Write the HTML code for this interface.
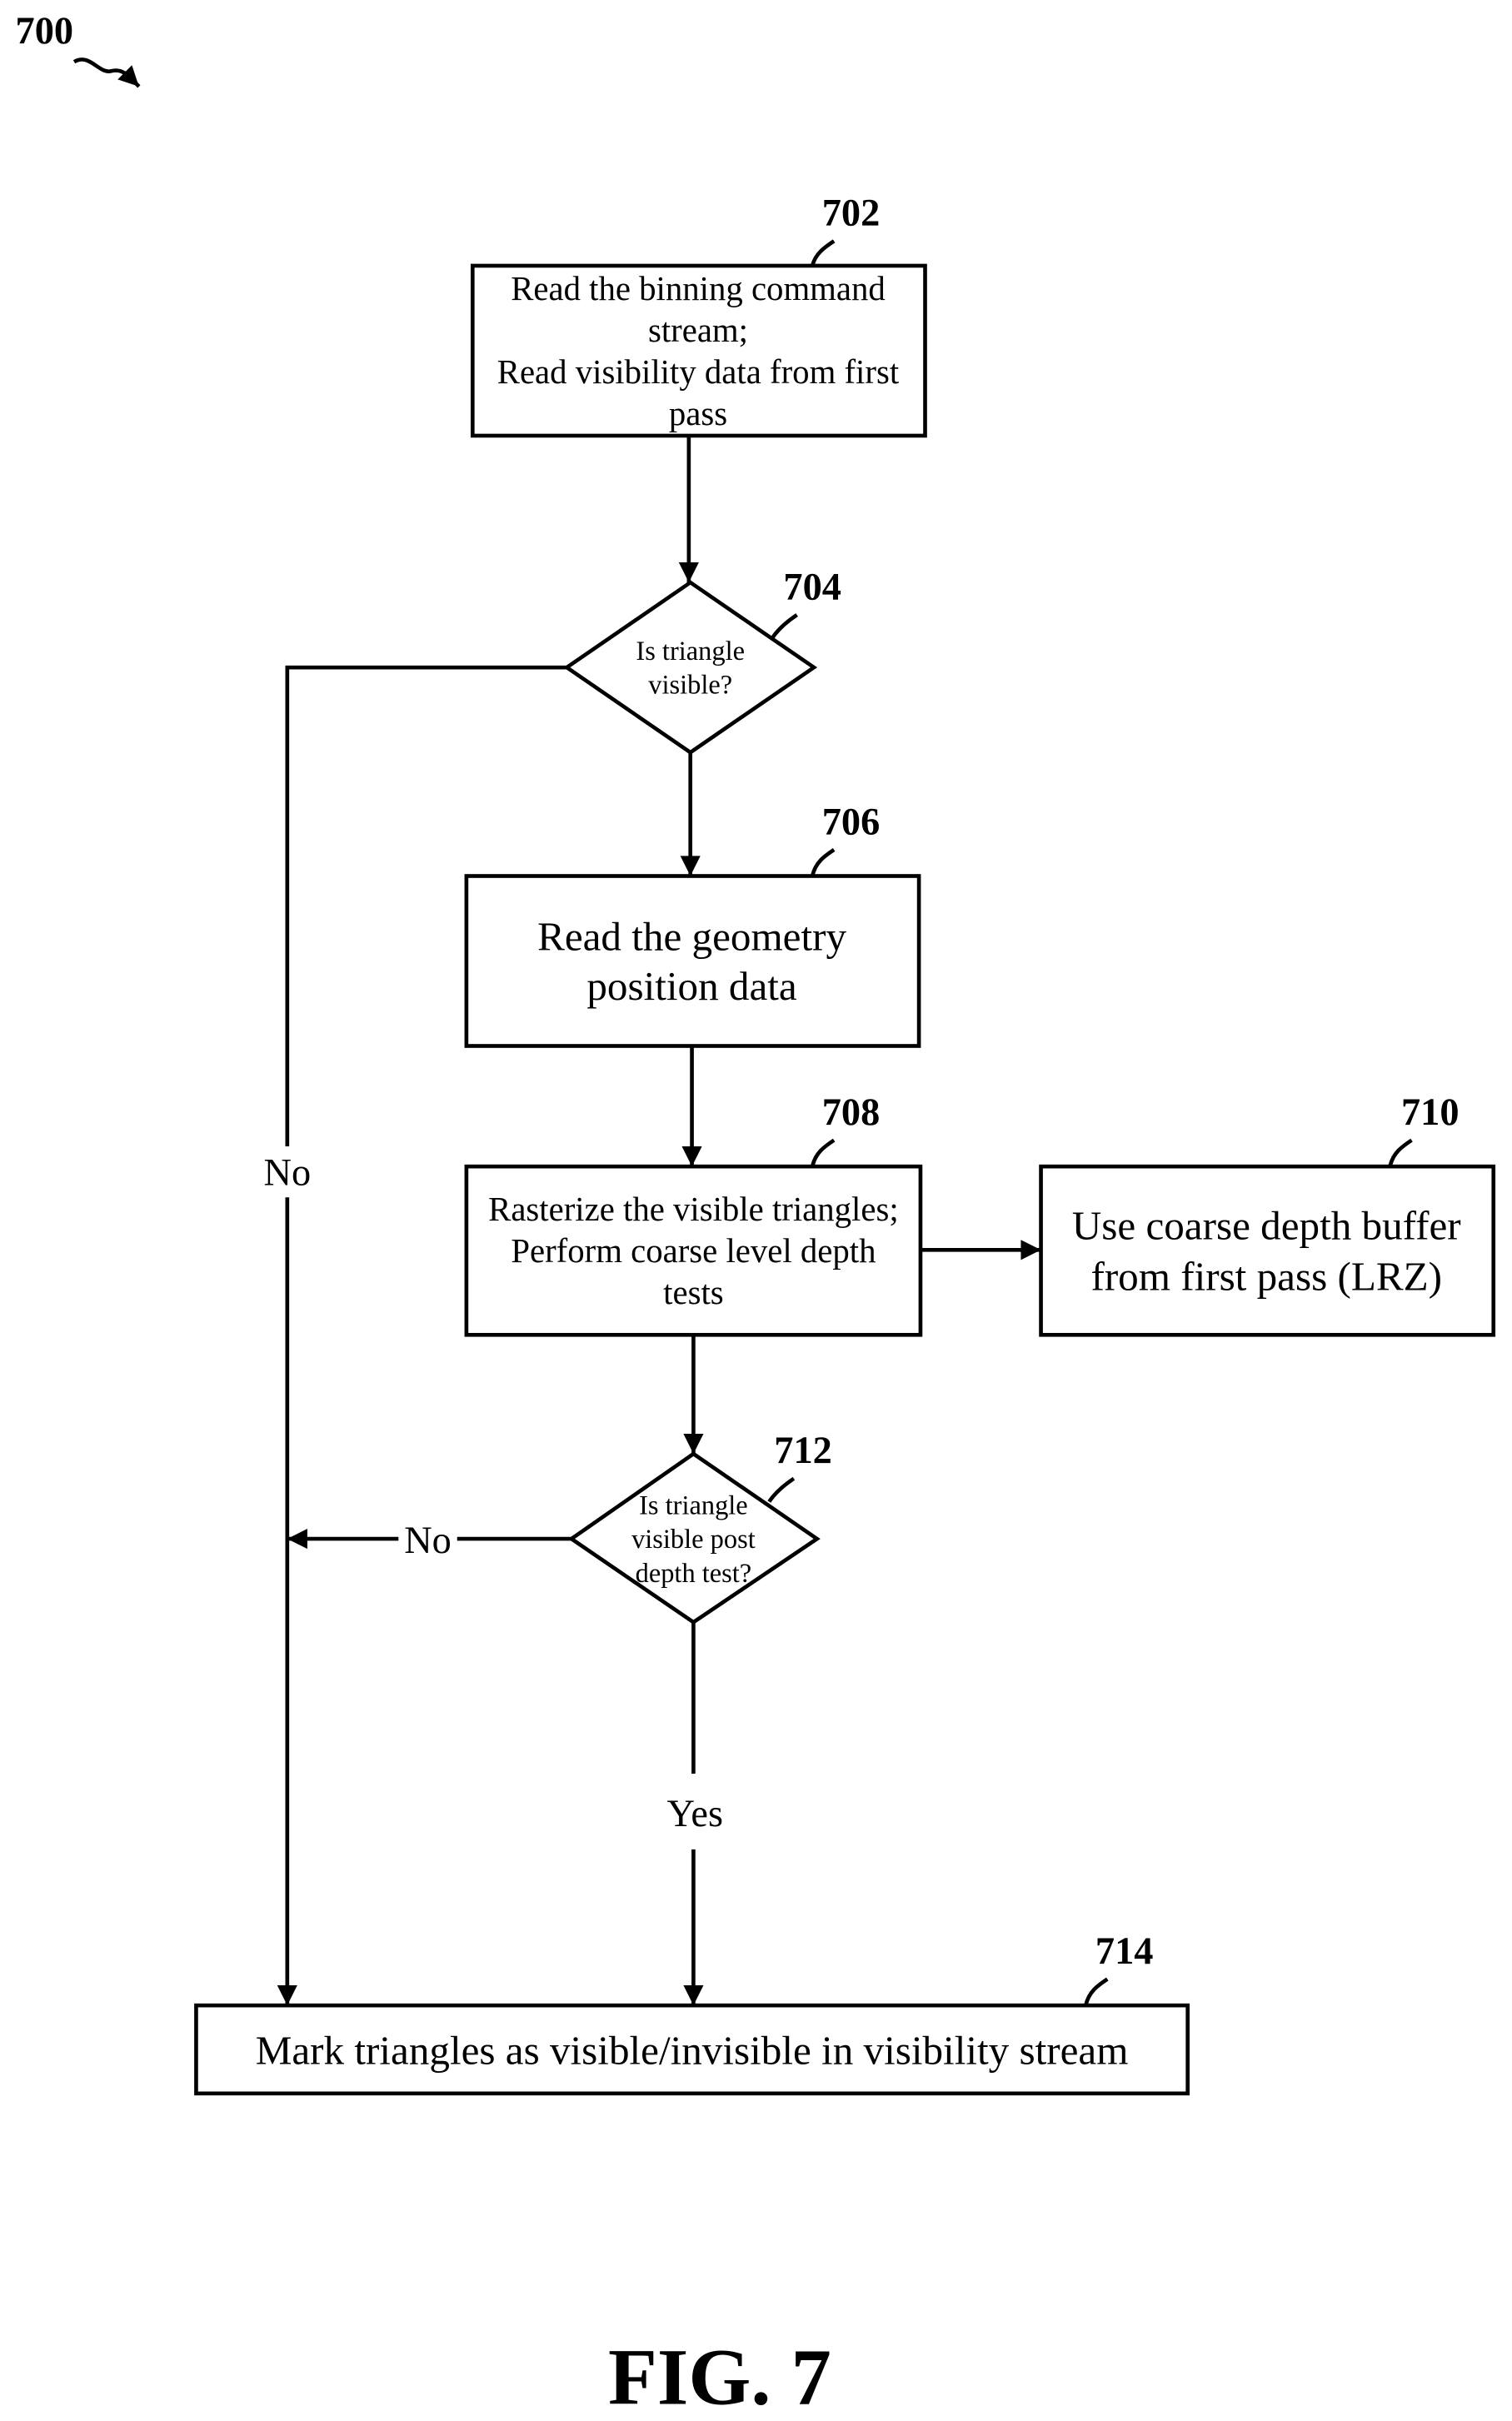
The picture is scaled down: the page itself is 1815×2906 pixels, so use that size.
<!DOCTYPE html>
<html><head><meta charset="utf-8"><style>
html,body{margin:0;padding:0;background:#fff;}
svg{display:block;}
text{font-family:"Liberation Serif",serif;fill:#000;}
</style></head><body>
<svg width="1815" height="2906" viewBox="0 0 979 1567" preserveAspectRatio="none" xmlns="http://www.w3.org/2000/svg">
<defs>
<marker id="b" viewBox="0 0 10 10" markerWidth="18" markerHeight="13" refX="10" refY="5" orient="auto" markerUnits="userSpaceOnUse"><path d="M0,0 L10,5 L0,10 Z" fill="#000"/></marker></defs>
<g stroke="#000" stroke-width="2.5" fill="none">
<text x="10" y="28" font-size="25" font-weight="bold" stroke="none">700</text>
<path d="M48,40 C58,34 64,48 72,46 C80,44 84,50 90,56" marker-end="url(#b)"/>
<rect x="306" y="172" width="293" height="110"/>
<line x1="446" y1="282" x2="446" y2="377" marker-end="url(#b)"/>
<polygon points="447,377 527,432 447,487 367,432"/>
<polyline points="367,432 186,432 186,742"/>
<line x1="186" y1="775" x2="186" y2="1298" marker-end="url(#b)"/>
<line x1="447" y1="487" x2="447" y2="567" marker-end="url(#b)"/>
<rect x="302" y="567" width="293" height="110"/>
<line x1="448" y1="677" x2="448" y2="755" marker-end="url(#b)"/>
<rect x="302" y="755" width="294" height="109"/>
<line x1="596" y1="809" x2="674" y2="809" marker-end="url(#b)"/>
<rect x="674" y="755" width="293" height="109"/>
<line x1="449" y1="864" x2="449" y2="941" marker-end="url(#b)"/>
<polygon points="449,941 529,996 449,1050 370,996"/>
<line x1="370" y1="996" x2="296" y2="996"/>
<line x1="258" y1="996" x2="186" y2="996" marker-end="url(#b)"/>
<line x1="449" y1="1050" x2="449" y2="1148"/>
<line x1="449" y1="1197" x2="449" y2="1298" marker-end="url(#b)"/>
<rect x="127" y="1298" width="642" height="57"/>
<path d="M526,172 C528,164 534,160 540,156"/>
<path d="M500,413 C504,407 510,402 516,398"/>
<path d="M526,567 C528,558 534,554 540,550"/>
<path d="M526,755 C528,746 534,742 540,738"/>
<path d="M900,755 C902,746 908,742 914,738"/>
<path d="M498,972 C502,966 508,961 514,957"/>
<path d="M703,1298 C705,1289 711,1285 717,1281"/>
</g>
<g text-anchor="middle">
<text x="551" y="146" font-size="25" font-weight="bold">702</text>
<text x="526" y="388" font-size="25" font-weight="bold">704</text>
<text x="551" y="540" font-size="25" font-weight="bold">706</text>
<text x="551" y="728" font-size="25" font-weight="bold">708</text>
<text x="926" y="728" font-size="25" font-weight="bold">710</text>
<text x="520" y="947" font-size="25" font-weight="bold">712</text>
<text x="728" y="1271" font-size="25" font-weight="bold">714</text>
<text x="452" y="194" font-size="22">Read the binning command</text>
<text x="452" y="221" font-size="22">stream;</text>
<text x="452" y="248" font-size="22">Read visibility data from first</text>
<text x="452" y="275" font-size="22">pass</text>
<text x="447" y="427" font-size="17.5">Is triangle</text>
<text x="447" y="449" font-size="17.5">visible?</text>
<text x="186" y="767" font-size="25">No</text>
<text x="448" y="615" font-size="26.5">Read the geometry</text>
<text x="448" y="647" font-size="26.5">position data</text>
<text x="449" y="790" font-size="22">Rasterize the visible triangles;</text>
<text x="449" y="817" font-size="22">Perform coarse level depth</text>
<text x="449" y="844" font-size="22">tests</text>
<text x="820" y="802" font-size="26.5">Use coarse depth buffer</text>
<text x="820" y="835" font-size="26.5">from first pass (LRZ)</text>
<text x="449" y="980" font-size="17.5">Is triangle</text>
<text x="449" y="1002" font-size="17.5">visible post</text>
<text x="449" y="1024" font-size="17.5">depth test?</text>
<text x="277" y="1005" font-size="25">No</text>
<text x="450" y="1182" font-size="25">Yes</text>
<text x="448" y="1336" font-size="26.5">Mark triangles as visible/invisible in visibility stream</text>
<text x="466" y="1556" font-size="52" font-weight="bold">FIG. 7</text>
</g>
</svg>
</body></html>
